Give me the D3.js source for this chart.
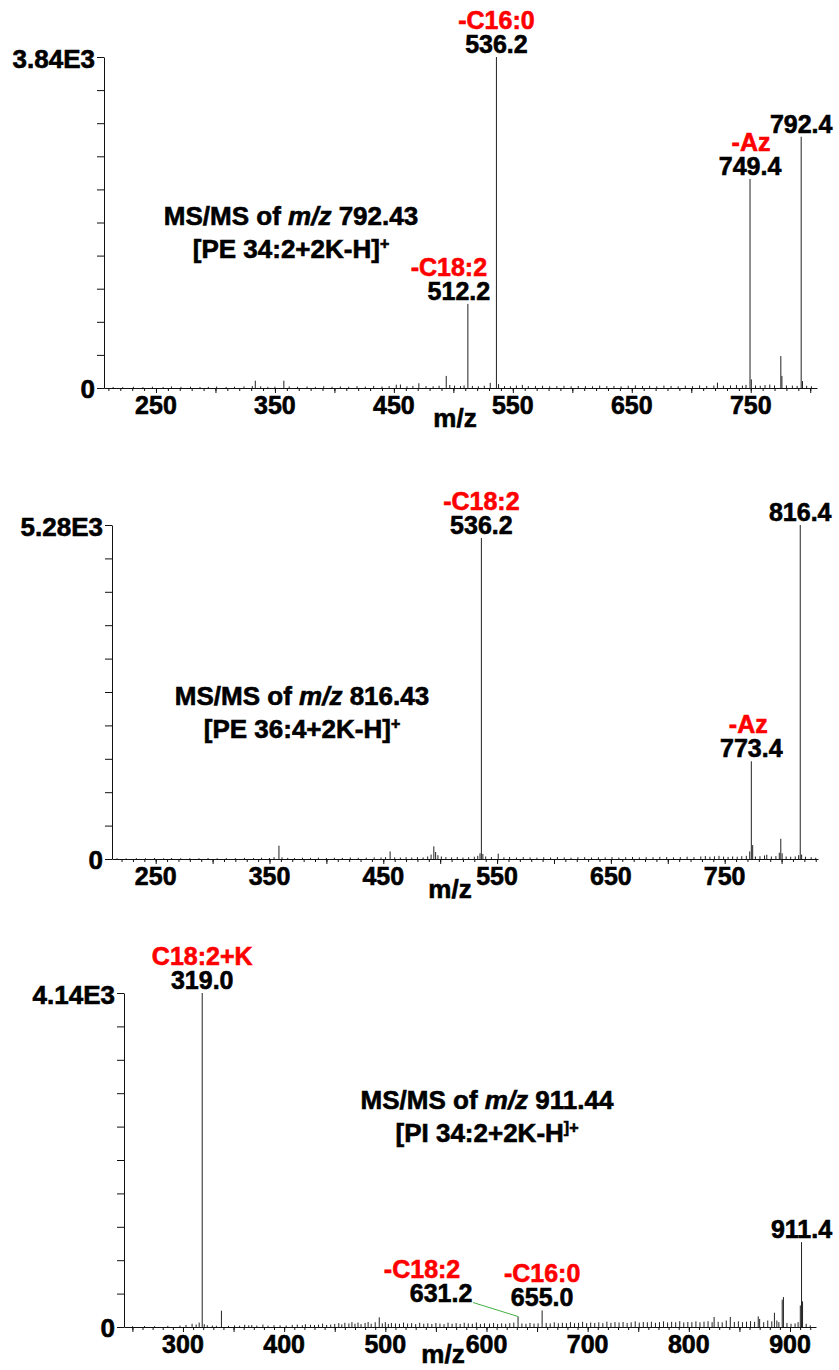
<!DOCTYPE html>
<html>
<head>
<meta charset="utf-8">
<script src="https://cdn.jsdelivr.net/npm/d3@7"></script>
<style>
	body { margin: 0; background: #fff; }
	svg { display: block; font-family: "Liberation Sans", Arial, sans-serif; font-weight: bold; }
</style>
</head>
<body>
<svg width="839" height="1370"></svg>
<script>
// Peak lists: [m/z, counts]
const p1Peaks = [
	[214,12],[222,10],[231,14],[239,11],[247,15],[256,12],[263,18],[271,13],[279,16],[287,12],[294,14],[301,17],
	[309,12],[316,15],[324,19],[331,22],[333.5,85],[338,20],[344,14],[350,16],[357.5,85],[362,18],[369,14],[377,17],
	[384,13],[391,20],[398,15],[405,18],[412,14],[419,21],[426,16],[433,24],[440,18],[446,22],[452,38],[455.5,40],
	[461,20],[466,25],[471,55],[477,22],[483,20],[488,26],[494,140],[497,35],[501,28],[506,22],[509,30],[512.2,975],
	[516,24],[521,20],[526,26],[531,60],[536.2,3840],[538,45],[543,22],[548,20],[553,28],[558,36],[563,22],[569,24],
	[575,26],[581,20],[587,22],[593,25],[599,20],[605,24],[611,22],[617,20],[623,28],[629,22],[635,24],[641,20],
	[647,26],[653,30],[659,22],[665,25],[671,20],[677,28],[683,24],[689,20],[695,26],[701,22],[707,30],[713,24],
	[719,28],[722,62],[727,26],[733,30],[738,34],[743,28],[746,36],[749.4,2425],[750.5,100],[754,30],[758,26],
	[762,34],[766,40],[770,30],[775.3,370],[776.2,140],[780,30],[785,28],[789,24],[792.4,2915],[793.5,80],[797,26],[801,20]
];
const p2Peaks = [
	[216,12],[224,10],[233,14],[241,12],[249,16],[257,12],[264,15],[272,12],[280,14],[288,13],[296,16],[304,12],
	[312,15],[320,14],[328,18],[336,15],[343,20],[350,16],[354,30],[358.3,210],[361,26],[366,18],[372,16],[379,20],
	[386,18],[393,22],[400,16],[407,20],[414,18],[421,24],[428,20],[435,22],[442,26],[448,24],[452,30],[456,120],
	[460,26],[465,22],[470,28],[475,24],[480,30],[485,26],[489,40],[492,70],[494.4,200],[496,110],[498,60],[501,40],
	[505,30],[510,26],[515,32],[520,24],[525,28],[530,36],[533,50],[535,90],[536.2,5075],[537.5,80],[540,40],[545,30],
	[551,84],[556,28],[561,32],[567,24],[573,30],[579,26],[585,22],[591,28],[597,24],[603,30],[609,26],[615,22],
	[621,28],[627,30],[633,24],[639,28],[645,26],[651,30],[657,24],[663,28],[669,32],[675,26],[681,30],[687,28],
	[693,34],[699,30],[705,26],[711,30],[717,36],[723,30],[729,40],[733,46],[737,36],[741,42],[745,50],[749,38],
	[753,34],[757,40],[761,36],[765,44],[769,50],[772,120],[773.4,1545],[774.6,220],[777,40],[781,44],[785,56],
	[787,68],[791,40],[795,46],[798,100],[799.3,320],[800.5,90],[804,40],[808,36],[812,40],[815,60],[816.4,5280],
	[817.6,70],[821,36],[826,28],[830,20]
];
const p3Peaks = [
	[250,10],[262,12],[272,10],[285,14],[297,18],[303,25],[309,40],[313,30],[316,55],[319.0,4140],[321,35],[324,22],
	[329,18],[333,15],[338,202],[345,14],[351,20],[356,16],[361,28],[365,20],[368,24],[373,18],[379,30],[384,16],
	[390,22],[396,20],[402,18],[408,26],[413,30],[418,22],[421,34],[426,28],[430,24],[434,30],[438,42],[442,26],
	[446,30],[450,38],[454,48],[457,32],[460,52],[464,44],[467,60],[470,40],[473,55],[476,36],[480,50],[483,62],
	[486,40],[490,58],[494,120],[497,45],[500,60],[503,38],[506,50],[510,44],[514,40],[518,55],[522,42],[526,48],
	[530,36],[534,52],[538,40],[542,46],[546,38],[550,50],[554,42],[558,36],[562,54],[566,40],[570,48],[574,38],
	[578,52],[582,44],[586,40],[590,56],[594,38],[598,46],[603,42],[607,50],[611,38],[615,46],[619,40],[623,48],
	[627,54],[631.2,130],[635,44],[639,40],[643,50],[647,42],[651,46],[655.0,205],[659,50],[663,44],[667,58],[671,46],
	[675,52],[679,48],[683,60],[687,46],[691,52],[695,64],[699,48],[703,56],[707,50],[711,58],[715,48],[719,66],
	[723,52],[727,60],[731,56],[735,62],[739,50],[743,58],[747,70],[751,54],[755,62],[759,58],[763,66],[767,52],
	[771,60],[775,70],[779,56],[783,64],[787,58],[791,72],[795,56],[799,62],[803,60],[807,70],[811,58],[815,66],
	[819,72],[823,60],[825,124],[829,64],[833,58],[837,80],[841,124],[845,62],[849,70],[853,60],[857,66],[861,72],
	[865,64],[868.6,131],[870,100],[874,60],[878,80],[882,70],[884.6,177],[887,80],[889,60],[892.3,338],[893.5,371],
	[897,50],[901,40],[905,44],[908,60],[910.2,267],[911.4,1052],[912.4,317],[916,40],[920,20]
];

const yMax = [3840, 5280, 4140];
const yTopLabels = ["3.84E3", "5.28E3", "4.14E3"];
const xTickLabels = [
	[250, 350, 450, 550, 650, 750],
	[250, 350, 450, 550, 650, 750],
	[300, 400, 500, 600, 700, 800, 900]
];
const precursors = ["792.43", "816.43", "911.44"];
const species = ["[PE 34:2+2K-H]", "[PE 36:4+2K-H]", "[PI 34:2+2K-H"];
const speciesSup = ["+", "+", "]+"];

// annotated peaks: number label + red loss tag
const p1Labels = [
	{ mz: 512.2, text: "512.2", tag: "-C18:2" },
	{ mz: 536.2, text: "536.2", tag: "-C16:0" },
	{ mz: 749.4, text: "749.4", tag: "-Az" },
	{ mz: 792.4, text: "792.4", tag: "" }
];
const p2Labels = [
	{ mz: 536.2, text: "536.2", tag: "-C18:2" },
	{ mz: 773.4, text: "773.4", tag: "-Az" },
	{ mz: 816.4, text: "816.4", tag: "" }
];
const p3Labels = [
	{ mz: 319.0, text: "319.0", tag: "C18:2+K" },
	{ mz: 631.2, text: "631.2", tag: "-C18:2" },
	{ mz: 655.0, text: "655.0", tag: "-C16:0" },
	{ mz: 911.4, text: "911.4", tag: "" }
];

const allPeaks = [p1Peaks, p2Peaks, p3Peaks];
const allLabels = [p1Labels, p2Labels, p3Labels];

// page layout of the three panels (pixels)
const layout = [
	{ left: 104, right: 817, top: 57, zero: 388, xDomain: [206.3, 805.7], mzX: 455, mzDy: 39, titleX: 291, titleY: 225 },
	{ left: 112, right: 818, top: 525, zero: 859, xDomain: [211.6, 832], mzX: 450, mzDy: 39, titleX: 302, titleY: 705 },
	{ left: 124, right: 816, top: 993, zero: 1327, xDomain: [241.7, 925.7], mzX: 443, mzDy: 36, titleX: 487, titleY: 1109 }
];
// small nudges for labels that sit off-centre in the original
const nudge = {
	"0:512.2": { dx: -9, tdx: -19 },
	"0:749.4": { tdx: 1 },
	"1:773.4": { tdx: -3 },
	"2:631.2": { dx: -77, dy: -11, tdx: -96, leader: true }
};

const svg = d3.select("svg");

function drawPanel(i) {
	const L = layout[i];
	const peaks = allPeaks[i];
	const g = svg.append("g");

	const x = d3.scaleLinear().domain(L.xDomain).range([L.left, L.right]);
	const y = d3.scaleLinear().domain([0, yMax[i]]).range([L.zero, L.top]);

	// y axis
	g.append("g")
		.attr("transform", `translate(${L.left},0)`)
		.call(d3.axisLeft(y)
			.tickValues(d3.range(11).map((k) => (yMax[i] * k) / 10))
			.tickSize(7)
			.tickSizeOuter(0)
			.tickFormat(() => ""))
		.call((a) => a.selectAll("line,path").attr("stroke", "#111"));

	g.append("text").text("0")
		.attr("x", L.left - 9).attr("y", y(0)).attr("dy", "0.38em")
		.attr("text-anchor", "end").style("font-size", "26px");
	g.append("text").text(yTopLabels[i])
		.attr("x", L.left - 9).attr("y", y(yMax[i])).attr("dy", "0.42em")
		.attr("text-anchor", "end").style("font-size", "26px");

	// x axis: minor ticks every 10, major every 50
	const [d0, d1] = L.xDomain;
	const minor = d3.range(Math.ceil(d0 / 10) * 10, d1, 10);
	const major = minor.filter((v) => v % 50 === 0);
	g.append("g")
		.attr("transform", `translate(0,${L.zero})`)
		.call(d3.axisBottom(x).tickValues(minor).tickSize(3).tickSizeOuter(0).tickFormat(() => ""))
		.call((a) => a.selectAll("line,path").attr("stroke", "#111"));
	g.append("g")
		.attr("transform", `translate(0,${L.zero})`)
		.call(d3.axisBottom(x).tickValues(major).tickSize(5).tickSizeOuter(0).tickFormat(() => ""))
		.call((a) => a.select("path").remove())
		.call((a) => a.selectAll("line").attr("stroke", "#111"));

	g.selectAll(".xlab")
		.data(xTickLabels[i])
		.join("text")
		.attr("class", "xlab")
		.text((d) => d)
		.attr("x", (d) => x(d))
		.attr("y", L.zero + 26)
		.attr("text-anchor", "middle")
		.style("font-size", "25px");

	g.append("text").text("m/z")
		.attr("x", L.mzX).attr("y", L.zero + L.mzDy)
		.attr("text-anchor", "middle").style("font-size", "26px");

	// spectrum sticks
	g.selectAll(".pk")
		.data(peaks)
		.join("line")
		.attr("class", "pk")
		.attr("x1", (d) => x(d[0]))
		.attr("x2", (d) => x(d[0]))
		.attr("y1", y(0))
		.attr("y2", (d) => y(d[1]))
		.attr("stroke", "#222")
		.attr("stroke-width", 1);

	// title
	const t1 = g.append("text")
		.attr("x", L.titleX).attr("y", L.titleY)
		.attr("text-anchor", "middle").style("font-size", "26px");
	t1.append("tspan").text("MS/MS of ");
	t1.append("tspan").text("m/z").style("font-style", "italic");
	t1.append("tspan").text(" " + precursors[i]);
	const t2 = g.append("text")
		.attr("x", L.titleX).attr("y", L.titleY + 33)
		.attr("text-anchor", "middle").style("font-size", "26px");
	t2.append("tspan").text(species[i]);
	t2.append("tspan").text(speciesSup[i]).attr("dy", "-9").style("font-size", "16px");

	// peak annotations
	allLabels[i].forEach((lab) => {
		const pk = peaks.find((p) => p[0] === lab.mz);
		const n = nudge[i + ":" + lab.mz] || {};
		const px = x(pk[0]);
		const base = y(pk[1]) - 4 + (n.dy || 0);
		const cx = px + (n.dx || 0);
		g.append("text").text(lab.text)
			.attr("x", cx).attr("y", base)
			.attr("text-anchor", "middle").style("font-size", "25px").attr("fill", "#000");
		if (lab.tag) {
			g.append("text").text(lab.tag)
				.attr("x", px + (n.tdx || 0)).attr("y", base - 24)
				.attr("text-anchor", "middle").style("font-size", "25px").attr("fill", "#ff0000");
		}
		if (n.leader) {
			g.append("line")
				.attr("x1", cx + 32).attr("y1", base + 1)
				.attr("x2", px).attr("y2", y(pk[1]))
				.attr("stroke", "#44b044").attr("stroke-width", 1);
		}
	});
}

[0, 1, 2].forEach(drawPanel);

// the original lettering is a touch heavier than plain bold
svg.selectAll("text")
	.attr("stroke", function () { return d3.select(this).attr("fill") || "#000"; })
	.attr("stroke-width", 0.6);
</script>
</body>
</html>
